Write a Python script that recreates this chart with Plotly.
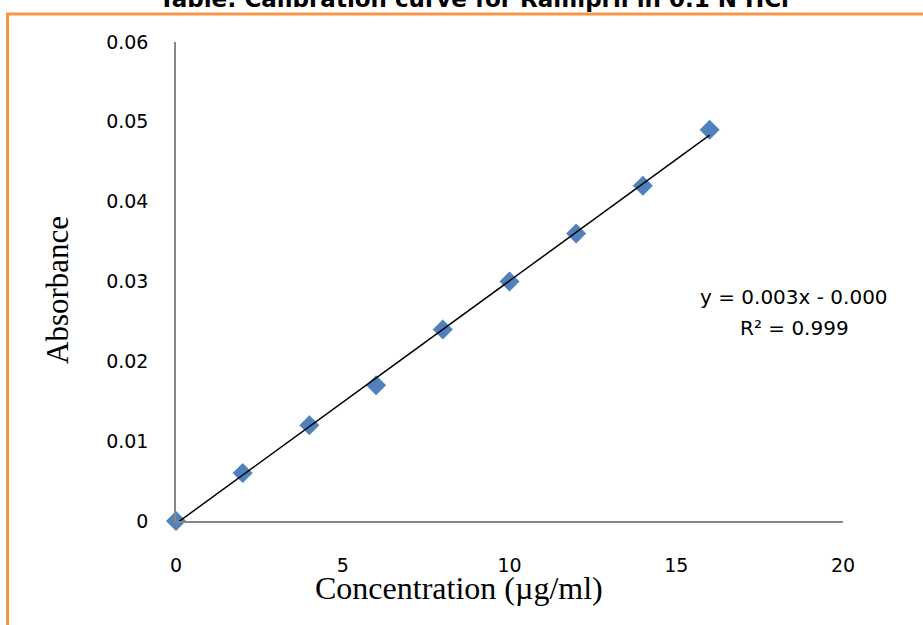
import numpy as np
import plotly.graph_objects as go

concentration = [0, 2, 4, 6, 8, 10, 12, 14, 16]
absorbance = [0.0, 0.006, 0.012, 0.017, 0.024, 0.030, 0.036, 0.042, 0.049]
x_ticks = [0, 5, 10, 15, 20]
y_ticks = [0, 0.01, 0.02, 0.03, 0.04, 0.05, 0.06]
y_tick_labels = ["0", "0.01", "0.02", "0.03", "0.04", "0.05", "0.06"]

slope, intercept = np.polyfit(concentration, absorbance, 1)
fit_x = [concentration[0], concentration[-1]]
fit_y = [slope * v + intercept for v in fit_x]

W, H = 923, 625
L, R, T, B = 176, 843, 42, 521

def px(xp):
    return (xp - L) / (R - L)

def py(yp):
    return (B - yp) / (B - T)

fig = go.Figure()
fig.add_trace(go.Scatter(
    x=concentration, y=absorbance, mode="markers",
    marker=dict(symbol="diamond", size=15, color="#4F81BD",
                line=dict(color="#4A7EBB", width=0.5)),
    cliponaxis=False, showlegend=False))
fig.add_trace(go.Scatter(
    x=fit_x, y=fit_y, mode="lines",
    line=dict(color="black", width=1.5),
    cliponaxis=False, showlegend=False))

tick_font = dict(family="DejaVu Sans", size=19, color="black")
fig.update_layout(
    width=W, height=H,
    margin=dict(l=L, r=W - R, t=T, b=H - B),
    paper_bgcolor="white", plot_bgcolor="white",
    xaxis=dict(range=[0, 20], tickvals=x_ticks, showgrid=False, zeroline=False,
               showline=True, linecolor="#868686", linewidth=1.5,
               ticks="", tickfont=tick_font, ticklabelstandoff=26),
    yaxis=dict(range=[0, 0.06], tickvals=y_ticks, ticktext=y_tick_labels,
               showgrid=False, zeroline=False,
               showline=True, linecolor="#868686", linewidth=1.5,
               ticks="", tickfont=tick_font, ticklabelstandoff=22),
    shapes=[
        dict(type="line", xref="paper", yref="paper",
             x0=px(6), x1=px(W + 5), y0=py(14), y1=py(14),
             line=dict(color="#F79646", width=3)),
        dict(type="line", xref="paper", yref="paper",
             x0=px(7.5), x1=px(7.5), y0=py(13), y1=py(H + 5),
             line=dict(color="#F79646", width=3)),
    ],
    annotations=[
        dict(text="<b>Table: Calibration curve for Ramipril in 0.1 N HCl</b>",
             xref="paper", yref="paper", x=px(474), y=py(-1),
             xanchor="center", yanchor="middle", showarrow=False,
             font=dict(family="DejaVu Sans", size=23, color="black")),
        dict(text="y = 0.003x - 0.000", xref="paper", yref="paper",
             x=px(794), y=py(297), xanchor="center", yanchor="middle",
             showarrow=False, font=dict(family="DejaVu Sans", size=20, color="black")),
        dict(text="R² = 0.999", xref="paper", yref="paper",
             x=px(794), y=py(328), xanchor="center", yanchor="middle",
             showarrow=False, font=dict(family="DejaVu Sans", size=20, color="black")),
        dict(text="Concentration (µg/ml)", xref="paper", yref="paper",
             x=px(459), y=py(588), xanchor="center", yanchor="middle",
             showarrow=False,
             font=dict(family="Liberation Serif", size=32, color="black")),
        dict(text="Absorbance", xref="paper", yref="paper",
             x=px(57), y=py(290), xanchor="center", yanchor="middle",
             textangle=-90, showarrow=False,
             font=dict(family="Liberation Serif", size=31, color="black")),
    ],
)

fig.write_html("out.html",
               config={"displayModeBar": False},
               post_script="document.body.style.margin='0px';document.body.style.padding='0px';")
